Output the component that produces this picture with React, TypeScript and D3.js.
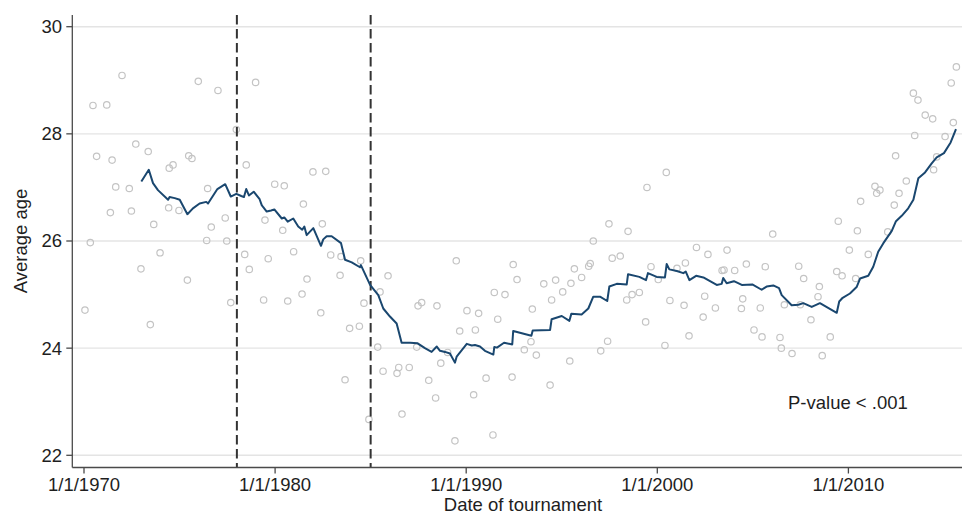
import React from "react";
import * as d3 from "d3";

// ---- data ----
const scatterYears = [
  1970.05, 1970.33, 1970.47, 1970.66, 1971.19, 1971.38, 1971.47, 1971.66, 1971.99, 1972.37, 1972.48, 1972.71,
  1972.98, 1973.36, 1973.47, 1973.65, 1973.98, 1974.43, 1974.46, 1974.66, 1974.97, 1975.41, 1975.48, 1975.65,
  1975.98, 1976.42, 1976.47, 1976.66, 1977.01, 1977.39, 1977.47, 1977.68, 1977.97, 1978.41, 1978.49, 1978.65,
  1978.98, 1979.4, 1979.47, 1979.64, 1979.98, 1980.4, 1980.48, 1980.66, 1980.97, 1981.41, 1981.48, 1981.67,
  1981.98, 1982.39, 1982.47, 1982.65, 1982.91, 1983.4, 1983.45, 1983.66, 1983.9, 1984.41, 1984.48, 1984.65,
  1984.91, 1985.37, 1985.49, 1985.65, 1985.91, 1986.38, 1986.47, 1986.64, 1987.02, 1987.41, 1987.48, 1987.67,
  1988.04, 1988.4, 1988.47, 1988.67, 1989.03, 1989.41, 1989.48, 1989.66, 1990.04, 1990.39, 1990.48, 1990.65,
  1991.04, 1991.4, 1991.47, 1991.65, 1992.03, 1992.4, 1992.46, 1992.66, 1993.04, 1993.39, 1993.46, 1993.67,
  1994.06, 1994.39, 1994.47, 1994.68, 1995.05, 1995.42, 1995.48, 1995.66, 1996.04, 1996.41, 1996.49, 1996.65,
  1997.04, 1997.4, 1997.47, 1997.64, 1998.06, 1998.4, 1998.47, 1998.68, 1999.06, 1999.39, 1999.46, 1999.67,
  2000.05, 2000.4, 2000.47, 2000.66, 2001.03, 2001.4, 2001.47, 2001.66, 2002.05, 2002.4, 2002.48, 2002.65,
  2003.04, 2003.39, 2003.49, 2003.65, 2004.05, 2004.4, 2004.47, 2004.66, 2005.06, 2005.39, 2005.48, 2005.65,
  2006.04, 2006.42, 2006.49, 2006.65, 2007.05, 2007.4, 2007.48, 2007.66, 2008.04, 2008.41, 2008.48, 2008.63,
  2009.05, 2009.39, 2009.47, 2009.67, 2010.05, 2010.38, 2010.47, 2010.64, 2011.04, 2011.39, 2011.48, 2011.65,
  2012.06, 2012.4, 2012.47, 2012.65, 2013.03, 2013.4, 2013.47, 2013.64, 2014.02, 2014.41, 2014.46, 2014.62,
  2015.06, 2015.38, 2015.49, 2015.65,
];
const scatterAges = [
  24.71, 25.97, 28.53, 27.58, 28.54, 26.53, 27.51, 27.01, 29.09, 26.98, 26.56, 27.81,
  25.48, 27.67, 24.44, 26.31, 25.78, 26.62, 27.36, 27.42, 26.57, 25.27, 27.59, 27.54,
  28.98, 26.01, 26.98, 26.26, 28.81, 26.43, 26.0, 24.85, 28.08, 25.75, 27.42, 25.47,
  28.96, 24.9, 26.39, 25.67, 27.06, 26.2, 27.03, 24.88, 25.8, 25.01, 26.69, 25.29,
  27.29, 24.66, 26.32, 27.3, 25.74, 25.36, 25.71, 23.41, 24.37, 24.41, 25.63, 24.84,
  22.67, 24.02, 25.05, 23.57, 25.35, 23.53, 23.64, 22.77, 23.64, 24.02, 24.79, 24.85,
  23.4, 23.07, 24.79, 23.72, 23.92, 22.27, 25.63, 24.32, 24.7, 23.13, 24.34, 24.65,
  23.44, 22.38, 25.04, 24.54, 25.0, 23.46, 25.56, 25.28, 23.97, 24.12, 24.73, 23.87,
  25.2, 23.31, 24.9, 25.27, 25.05, 23.76, 25.21, 25.48, 25.32, 25.53, 25.58, 26.0,
  23.95, 24.13, 26.32, 25.68, 25.72, 24.9, 26.18, 25.0, 25.04, 24.49, 27.0, 25.52,
  25.28, 24.05, 27.28, 24.89, 25.49, 24.8, 25.59, 24.23, 25.88, 24.58, 24.97, 25.75,
  24.75, 25.45, 25.46, 25.83, 25.45, 24.74, 24.92, 25.57, 24.34, 24.75, 24.21, 25.52,
  26.13, 24.2, 24.0, 24.81, 23.9, 25.53, 24.81, 25.3, 24.53, 24.96, 25.15, 23.86,
  24.21, 25.43, 26.37, 25.35, 25.83, 25.3, 26.19, 26.74, 25.75, 27.02, 26.89, 26.95,
  26.17, 26.67, 27.59, 26.89, 27.12, 28.76, 27.97, 28.63, 28.35, 28.28, 27.33, 27.57,
  27.95, 28.95, 28.21, 29.25,
];

const lineYears = [
  1973.0, 1973.39, 1973.61, 1973.87, 1974.4, 1974.48, 1974.75, 1975.01, 1975.41, 1975.7, 1976.05, 1976.4,
  1976.49, 1976.98, 1977.39, 1977.68, 1977.97, 1978.23, 1978.37, 1978.49, 1978.63, 1978.88, 1979.19, 1979.3,
  1979.38, 1979.56, 1979.79, 1979.96, 1980.35, 1980.48, 1980.66, 1980.95, 1981.21, 1981.42, 1981.53, 1981.65,
  1982.0, 1982.4, 1982.52, 1982.7, 1982.96, 1983.45, 1983.66, 1984.01, 1984.44, 1984.49, 1984.97, 1985.4,
  1985.66, 1986.01, 1986.36, 1986.62, 1987.06, 1987.46, 1987.84, 1988.19, 1988.46, 1988.63, 1988.89, 1989.15,
  1989.41, 1989.5, 1990.03, 1990.29, 1990.46, 1990.72, 1990.98, 1991.42, 1991.47, 1991.61, 1991.98, 1992.41,
  1992.46, 1993.41, 1993.48, 1994.39, 1994.47, 1995.0, 1995.4, 1995.5, 1996.04, 1996.39, 1996.65, 1997.0,
  1997.38, 1997.49, 1997.88, 1998.4, 1998.47, 1999.06, 1999.41, 1999.51, 1999.97, 2000.4, 2000.49, 2000.63,
  2001.02, 2001.36, 2001.49, 2001.68, 2002.03, 2002.41, 2002.76, 2003.11, 2003.37, 2003.45, 2003.63, 2004.01,
  2004.42, 2004.97, 2005.46, 2005.72, 2006.07, 2006.37, 2006.51, 2007.03, 2007.38, 2007.64, 2008.08, 2008.51,
  2009.39, 2009.52, 2009.7, 2010.08, 2010.43, 2010.61, 2011.04, 2011.3, 2011.56, 2011.83, 2012.27, 2012.49,
  2012.79, 2013.13, 2013.4, 2013.66, 2014.01, 2014.36, 2014.62, 2015.0, 2015.35, 2015.63,
];
const lineAges = [
  27.11, 27.33, 27.08, 26.95, 26.77, 26.82, 26.8, 26.77, 26.5, 26.61, 26.7, 26.73,
  26.7, 26.97, 27.06, 26.83, 26.88, 26.84, 26.82, 26.97, 26.85, 26.92, 26.78, 26.67,
  26.63, 26.55, 26.57, 26.59, 26.42, 26.44, 26.36, 26.42, 26.27, 26.21, 26.27, 26.11,
  26.24, 25.91, 26.03, 26.09, 26.09, 25.96, 25.65, 25.6, 25.51, 25.55, 25.18, 24.99,
  24.74, 24.59, 24.46, 24.1, 24.1, 24.09, 24.0, 23.93, 24.03, 23.95, 23.93, 23.9,
  23.73, 23.84, 24.08, 24.05, 24.06, 24.03, 23.95, 23.88, 24.02, 24.01, 24.1, 24.07,
  24.32, 24.23, 24.33, 24.34, 24.54, 24.6, 24.51, 24.64, 24.63, 24.74, 24.96, 24.96,
  24.88, 25.15, 25.2, 25.19, 25.38, 25.33, 25.27, 25.4, 25.33, 25.32, 25.57, 25.47,
  25.44, 25.4, 25.43, 25.27, 25.35, 25.32, 25.25, 25.18, 25.2, 25.31, 25.21, 25.25,
  25.18, 25.19, 25.09, 25.15, 25.17, 25.12, 24.99, 24.8, 24.81, 24.84, 24.77, 24.84,
  24.66, 24.87, 24.94, 25.02, 25.14, 25.3, 25.35, 25.52, 25.8, 25.96, 26.19, 26.37,
  26.47, 26.61, 26.77, 27.17, 27.28, 27.45, 27.56, 27.64, 27.84, 28.09,
];

const yTicks = [22, 24, 26, 28, 30];
const xTickYears = [1970, 1980, 1990, 2000, 2010];
const xTickLabels = ["1/1/1970", "1/1/1980", "1/1/1990", "1/1/2000", "1/1/2010"];
const cutoffYears = [1978, 1985];
const xTitle = "Date of tournament";
const yTitle = "Average age";
const pText = "P-value < .001";

// ---- layout ----
const W = 962;
const H = 514;
const axisX = 72.3;
const axisY = 467.5;
const plotTop = 15;
const plotRight = 962;
const FONT = "'Liberation Sans', Arial, Helvetica, sans-serif";
const FS = 18.5;
const TEXT = "#1e1e1e";

export default function App() {
  const x = d3.scaleLinear().domain([1970, 2010]).range([84, 848.4]);
  const y = d3.scaleLinear().domain([22, 30]).range([455.3, 26.7]);

  const pts = scatterYears.map((yr, i) => ({ yr, age: scatterAges[i] }));
  const linePts = lineYears.map((yr, i) => [yr, lineAges[i]] as [number, number]);
  const lineGen = d3
    .line<[number, number]>()
    .x((d) => x(d[0]))
    .y((d) => y(d[1]));

  return (
    <svg
      width={W}
      height={H}
      style={{ position: "absolute", left: 0, top: 0, background: "#fff" }}
      fontFamily={FONT}
    >
      <rect x={0} y={0} width={W} height={H} fill="#fff" />
      {/* gridlines */}
      {yTicks.map((t) => (
        <line key={"g" + t} x1={axisX} x2={plotRight} y1={y(t)} y2={y(t)} stroke="#e4e4e4" strokeWidth={1.4} />
      ))}
      {/* scatter */}
      {pts.map((p, i) => (
        <circle key={"p" + i} cx={x(p.yr)} cy={y(p.age)} r={3.2} fill="none" stroke="#c4c4c4" strokeWidth={1.2} />
      ))}
      {/* cutoff dashed lines */}
      {cutoffYears.map((c) => (
        <line
          key={"c" + c}
          x1={x(c)}
          x2={x(c)}
          y1={plotTop}
          y2={axisY}
          stroke="#333"
          strokeWidth={2}
          strokeDasharray="9.5 4.5"
        />
      ))}
      {/* moving average line */}
      <path d={lineGen(linePts) || ""} fill="none" stroke="#1a476f" strokeWidth={2} strokeLinejoin="round" />
      {/* axes */}
      <line x1={axisX} x2={axisX} y1={plotTop} y2={axisY} stroke="#4a4a4a" strokeWidth={1.3} />
      <line x1={axisX} x2={plotRight} y1={axisY} y2={axisY} stroke="#4a4a4a" strokeWidth={1.3} />
      {yTicks.map((t) => (
        <g key={"yt" + t}>
          <line x1={axisX - 6} x2={axisX} y1={y(t)} y2={y(t)} stroke="#4a4a4a" strokeWidth={1.3} />
          <text x={62} y={y(t)} dy="0.35em" textAnchor="end" fontSize={FS} fill={TEXT}>
            {t}
          </text>
        </g>
      ))}
      {xTickYears.map((t, i) => (
        <g key={"xt" + t}>
          <line x1={x(t)} x2={x(t)} y1={axisY} y2={axisY + 6} stroke="#4a4a4a" strokeWidth={1.3} />
          <text x={x(t)} y={491} textAnchor="middle" fontSize={FS} fill={TEXT}>
            {xTickLabels[i]}
          </text>
        </g>
      ))}
      <text x={523} y={510.5} textAnchor="middle" fontSize={FS} fill={TEXT}>
        {xTitle}
      </text>
      <text
        transform={`translate(27,241) rotate(-90)`}
        textAnchor="middle"
        fontSize={FS}
        fill={TEXT}
      >
        {yTitle}
      </text>
      <text x={788} y={409} fontSize={FS} fill={TEXT}>
        {pText}
      </text>
    </svg>
  );
}
